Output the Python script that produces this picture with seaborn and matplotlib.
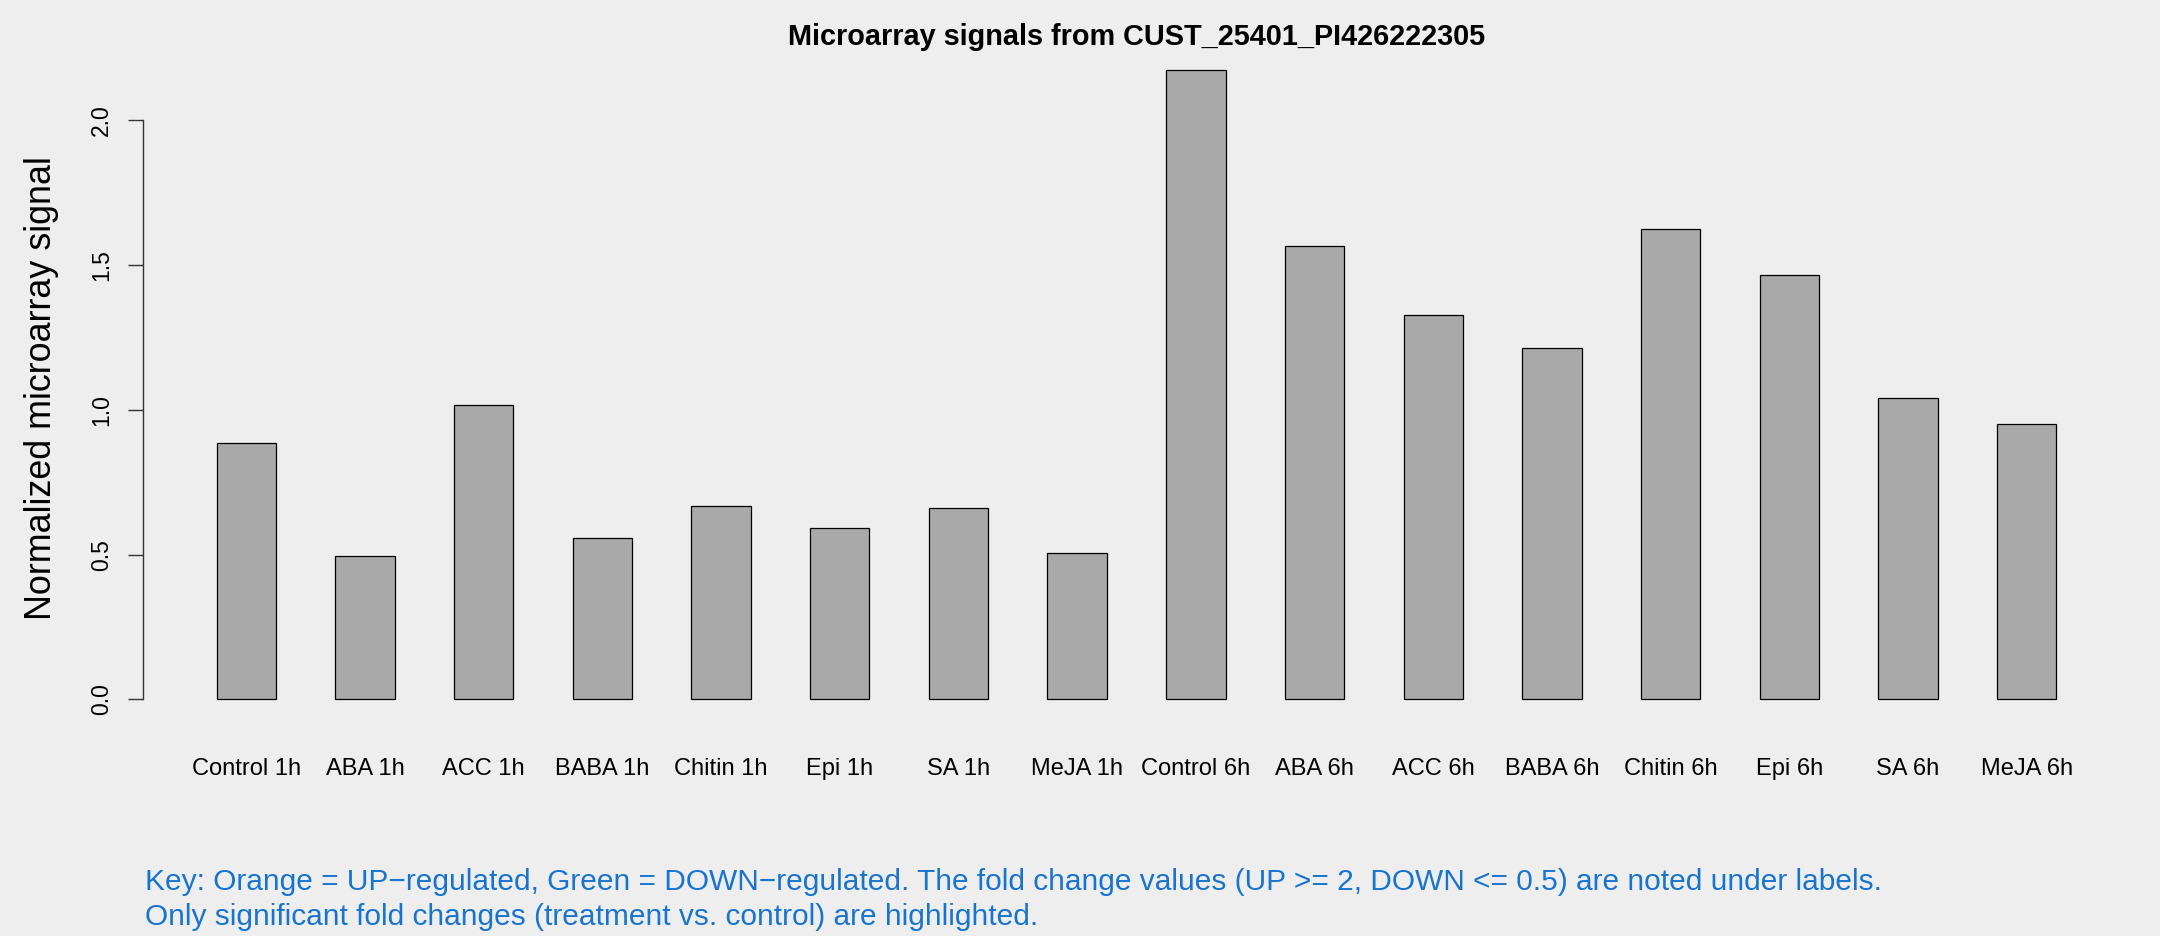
import matplotlib
matplotlib.use("Agg")
import matplotlib.pyplot as plt
import seaborn as sns

# samples and their normalized signal
samples = ['Control 1h', 'ABA 1h', 'ACC 1h', 'BABA 1h', 'Chitin 1h', 'Epi 1h', 'SA 1h', 'MeJA 1h',
           'Control 6h', 'ABA 6h', 'ACC 6h', 'BABA 6h', 'Chitin 6h', 'Epi 6h', 'SA 6h', 'MeJA 6h']
signal = [0.887, 0.497, 1.017, 0.558, 0.668, 0.591, 0.662, 0.505,
          2.172, 1.567, 1.329, 1.215, 1.624, 1.466, 1.040, 0.951]
yticks = [0.0, 0.5, 1.0, 1.5, 2.0]

title = 'Microarray signals from CUST_25401_PI426222305'
ylab = 'Normalized microarray signal'
key1 = ('Key: Orange = UP\u2212regulated, Green = DOWN\u2212regulated. The fold change values '
        '(UP >= 2, DOWN <= 0.5) are noted under labels.')
key2 = 'Only significant fold changes (treatment vs. control) are highlighted.'

sns.set_style('white')
plt.rcParams['font.family'] = ['Liberation Sans', 'DejaVu Sans']
plt.rcParams['text.color'] = 'black'
plt.rcParams['xtick.color'] = 'black'
plt.rcParams['ytick.color'] = 'black'
bg = '#EEEEEE'

fig = plt.figure(figsize=(21.6, 9.36), dpi=100, facecolor=bg)
ax = fig.add_axes([0.0662, 0.2258, 0.9199, 0.7259])
ax.set_facecolor(bg)

sns.barplot(x=samples, y=signal, color='#A9A9A9', saturation=1, width=0.5,
            edgecolor='black', linewidth=0.9, ax=ax)

top = max(signal)
ax.set_ylim(-0.04 * top, 1.04 * top)
ax.set_xlim(-0.87, 15.87)

for s in ['top', 'right', 'bottom']:
    ax.spines[s].set_visible(False)
ax.spines['left'].set_bounds(yticks[0], yticks[-1])
ax.spines['left'].set_color('#333333')
ax.spines['left'].set_linewidth(1)

ax.set_yticks(yticks)
ax.set_yticklabels([f'{t:.1f}' for t in yticks], rotation=90, va='center', fontsize=16.5)
ax.tick_params(axis='y', length=10.5, width=1, pad=11, color='#333333', left=True)
ax.tick_params(axis='x', length=0, pad=24, labelsize=17)
ax.set_xlabel('')
ax.set_ylabel('')

fig.text(0.5262, 0.9605, title, ha='center', va='center', fontsize=20.8, fontweight='bold')
fig.text(0.019, 0.5855, ylab, rotation=90, ha='center', va='center', fontsize=25.8)
fig.text(0.0669, 0.0577, key1, ha='left', va='center', fontsize=21.5, color='#1874CD')
fig.text(0.0669, 0.0198, key2, ha='left', va='center', fontsize=21.5, color='#1874CD')

fig.savefig('out.png', dpi=100, facecolor=bg)
